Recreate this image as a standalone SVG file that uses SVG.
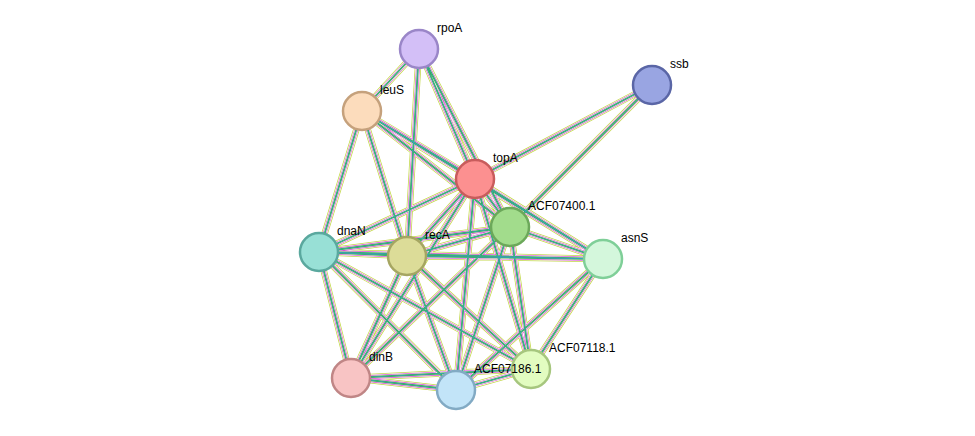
<svg xmlns="http://www.w3.org/2000/svg" xmlns:xlink="http://www.w3.org/1999/xlink" width="975" height="436" viewBox="0 0 975 436">
<style>
.n{stroke-width:2.5}
.t{font-family:"Liberation Sans",Arial,sans-serif;font-size:12px;fill:#000}
#E path{fill:none}
.l1{stroke:#c3d84a;stroke-width:6.5}
.l0{stroke:#fff;stroke-width:5}
.l2{stroke:#d84bd8;stroke-width:3.8}
.l5{stroke:#fff;stroke-width:2.6}
.l3{stroke:#3cb43c;stroke-width:1.8}
.l4{stroke:#3a9bd9;stroke-width:0.7}
</style>
<defs>
<g id="E">
<path d="M419,49L362,111M419,49L475,179M419,49L407,256M419,49L510,227M362,111L319,252
M362,111L475,179M362,111L510,227M362,111L603,259M362,111L407,256
M652,85L475,179M652,85L510,227
M475,179L510,227M475,179L603,259M475,179L319,252M475,179L407,256M475,179L351,378M475,179L456,390M475,179L531,369
M510,227L603,259M510,227L319,252M510,227L407,256M510,227L351,378M510,227L456,390M510,227L531,369
M603,259L319,252M603,259L407,256M603,259L456,390M603,259L531,369
M319,252L407,256M319,252L351,378M319,252L456,390M319,252L531,369
M407,256L351,378M407,256L456,390M407,256L531,369
M351,378L456,390M351,378L531,369M456,390L531,369"/>
</g>
</defs>
<rect width="975" height="436" fill="#fff"/>
<g id="connectors">
<use xlink:href="#E" class="l1"/>
<use xlink:href="#E" class="l0"/>
<use xlink:href="#E" class="l2"/>
<use xlink:href="#E" class="l5"/>
<use xlink:href="#E" class="l3"/>
<use xlink:href="#E" class="l4"/>
</g>
<g id="rpoA"><circle class="n" cx="419" cy="49" r="19" fill="#d3bff7" stroke="#9a86c8"/><text class="t" x="437" y="32">rpoA</text></g>
<g id="ssb"><circle class="n" cx="652" cy="85" r="19" fill="#99a5e2" stroke="#5a66a6"/><text class="t" x="670" y="68">ssb</text></g>
<g id="leuS"><circle class="n" cx="362" cy="111" r="19" fill="#fcdcbc" stroke="#c5a17c"/><text class="t" x="380" y="94">leuS</text></g>
<g id="topA"><circle class="n" cx="475" cy="179" r="19" fill="#fc9090" stroke="#c85c5c"/><text class="t" x="493" y="162">topA</text></g>
<g id="ACF07400.1"><circle class="n" cx="510" cy="227" r="19" fill="#a2dc8c" stroke="#6ca85a"/><text class="t" x="528" y="210">ACF07400.1</text></g>
<g id="asnS"><circle class="n" cx="603" cy="259" r="19" fill="#d4f7dc" stroke="#7fcf98"/><text class="t" x="621" y="242">asnS</text></g>
<g id="dnaN"><circle class="n" cx="319" cy="252" r="19" fill="#98e0d6" stroke="#5aa89e"/><text class="t" x="337" y="235">dnaN</text></g>
<g id="recA"><circle class="n" cx="407" cy="256" r="19" fill="#dcdc98" stroke="#a6a662"/><text class="t" x="425" y="239">recA</text></g>
<g id="dinB"><circle class="n" cx="351" cy="378" r="19" fill="#f8c4c4" stroke="#c08686"/><text class="t" x="369" y="361">dinB</text></g>
<g id="ACF07118.1"><circle class="n" cx="531" cy="369" r="19" fill="#e2fcc0" stroke="#a6c67e"/><text class="t" x="549" y="352">ACF07118.1</text></g>
<g id="ACF07186.1"><circle class="n" cx="456" cy="390" r="19" fill="#c2e4f8" stroke="#82aac4"/><text class="t" x="474" y="373">ACF07186.1</text></g>
</svg>
